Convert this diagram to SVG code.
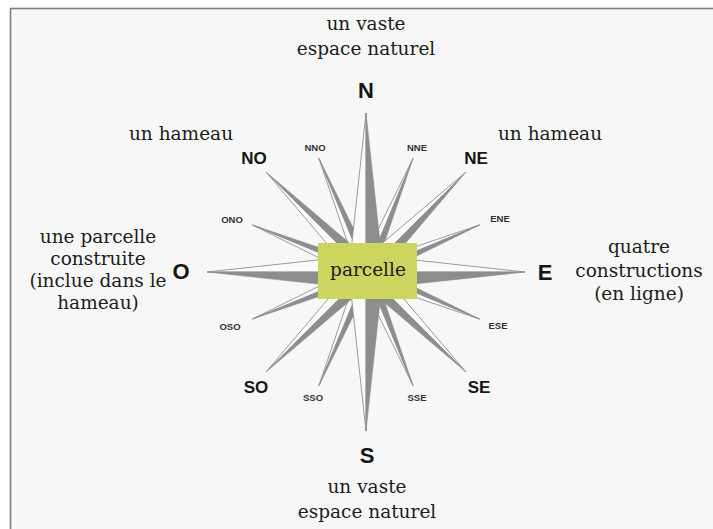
<svg xmlns="http://www.w3.org/2000/svg" width="713" height="529" viewBox="0 0 713 529">
<style>
.serif{font-family:"DejaVu Serif","Liberation Serif",serif;font-size:18.5px;fill:#1c1c1c;text-anchor:middle}
.card{font-family:"Liberation Sans",Arial,sans-serif;font-weight:bold;font-size:22px;fill:#151515;text-anchor:middle}
.inter{font-family:"Liberation Sans",Arial,sans-serif;font-weight:bold;font-size:17px;fill:#151515;text-anchor:middle}
.sec{font-family:"Liberation Sans",Arial,sans-serif;font-weight:bold;font-size:9.5px;fill:#333;text-anchor:middle}
.dk{fill:#8d8d8d;stroke:#8d8d8d;stroke-width:0.6;stroke-linejoin:round}
.lt{fill:#fbfbfb;stroke:#8f8f8f;stroke-width:0.9;stroke-linejoin:round}
</style>
<rect x="0" y="0" width="713" height="529" fill="#ffffff"/>
<rect x="10.5" y="8.5" width="712" height="530" fill="#f7f7f7" stroke="#808080" stroke-width="1.6"/>

<g id="rose">
  <g id="secondary-rays">
    <polygon class="lt" points="413.07,158.36 366,272 369.26,247.22"/>
    <polygon class="dk" points="413.07,158.36 366,272 381.22,252.16"/>
    <polygon class="lt" points="479.64,224.93 366,272 385.84,256.78"/>
    <polygon class="dk" points="479.64,224.93 366,272 390.78,268.74"/>
    <polygon class="lt" points="479.64,319.07 366,272 385.84,287.22"/>
    <polygon class="dk" points="479.64,319.07 366,272 390.78,275.26"/>
    <polygon class="lt" points="413.07,385.64 366,272 369.26,296.78"/>
    <polygon class="dk" points="413.07,385.64 366,272 381.22,291.84"/>
    <polygon class="lt" points="318.93,385.64 366,272 350.78,291.84"/>
    <polygon class="dk" points="318.93,385.64 366,272 362.74,296.78"/>
    <polygon class="lt" points="252.36,319.07 366,272 341.22,275.26"/>
    <polygon class="dk" points="252.36,319.07 366,272 346.16,287.22"/>
    <polygon class="lt" points="252.36,224.93 366,272 341.22,268.74"/>
    <polygon class="dk" points="252.36,224.93 366,272 346.16,256.78"/>
    <polygon class="lt" points="318.93,158.36 366,272 350.78,252.16"/>
    <polygon class="dk" points="318.93,158.36 366,272 362.74,247.22"/>
  </g>
  <g id="intercardinal-rays">
    <polygon class="lt" points="465.7,172.3 366,272 375.57,248.9"/>
    <polygon class="dk" points="465.7,172.3 366,272 389.1,262.43"/>
    <polygon class="lt" points="465.7,371.7 366,272 389.1,281.57"/>
    <polygon class="dk" points="465.7,371.7 366,272 375.57,295.1"/>
    <polygon class="lt" points="266.3,371.7 366,272 342.9,281.57"/>
    <polygon class="dk" points="266.3,371.7 366,272 356.43,295.1"/>
    <polygon class="lt" points="266.3,172.3 366,272 342.9,262.43"/>
    <polygon class="dk" points="266.3,172.3 366,272 356.43,248.9"/>
  </g>
  <g id="cardinal-rays">
    <polygon class="lt" points="366,113 366,272 350.44,256.44"/>
    <polygon class="dk" points="366,113 366,272 381.56,256.44"/>
    <polygon class="lt" points="525,272 366,272 381.56,256.44"/>
    <polygon class="dk" points="525,272 366,272 381.56,287.56"/>
    <polygon class="lt" points="366,431 366,272 350.44,287.56"/>
    <polygon class="dk" points="366,431 366,272 381.56,287.56"/>
    <polygon class="lt" points="207,272 366,272 350.44,256.44"/>
    <polygon class="dk" points="207,272 366,272 350.44,287.56"/>
  </g>
</g>

<g id="parcelle">
  <rect x="318" y="243" width="99" height="56" fill="#cbd55f"/>
  <text class="serif" x="368" y="276">parcelle</text>
</g>

<g id="label-N"><text class="card" x="366" y="98">N</text></g>
<g id="label-S"><text class="card" x="367" y="463">S</text></g>
<g id="label-E"><text class="card" x="545" y="280">E</text></g>
<g id="label-O"><text class="card" x="181" y="279">O</text></g>
<g id="label-NE"><text class="inter" x="476" y="164">NE</text></g>
<g id="label-NO"><text class="inter" x="254" y="164">NO</text></g>
<g id="label-SE"><text class="inter" x="479" y="393">SE</text></g>
<g id="label-SO"><text class="inter" x="256" y="393">SO</text></g>
<g id="label-NNE"><text class="sec" x="417" y="151">NNE</text></g>
<g id="label-NNO"><text class="sec" x="315" y="151">NNO</text></g>
<g id="label-ENE"><text class="sec" x="500" y="222">ENE</text></g>
<g id="label-ONO"><text class="sec" x="232" y="223">ONO</text></g>
<g id="label-ESE"><text class="sec" x="498" y="329">ESE</text></g>
<g id="label-OSO"><text class="sec" x="230" y="330">OSO</text></g>
<g id="label-SSE"><text class="sec" x="417" y="401">SSE</text></g>
<g id="label-SSO"><text class="sec" x="313" y="401">SSO</text></g>

<g id="text-north">
  <text class="serif" x="366" y="30">un vaste</text>
  <text class="serif" x="366" y="55">espace naturel</text>
</g>
<g id="text-south">
  <text class="serif" x="367" y="493">un vaste</text>
  <text class="serif" x="367" y="518">espace naturel</text>
</g>
<g id="text-northwest"><text class="serif" x="181" y="140">un hameau</text></g>
<g id="text-northeast"><text class="serif" x="550" y="140">un hameau</text></g>
<g id="text-west">
  <text class="serif" x="98" y="243">une parcelle</text>
  <text class="serif" x="98" y="265">construite</text>
  <text class="serif" x="98" y="287">(inclue dans le</text>
  <text class="serif" x="98" y="309">hameau)</text>
</g>
<g id="text-east">
  <text class="serif" x="639" y="253">quatre</text>
  <text class="serif" x="639" y="277">constructions</text>
  <text class="serif" x="639" y="300">(en ligne)</text>
</g>
</svg>
